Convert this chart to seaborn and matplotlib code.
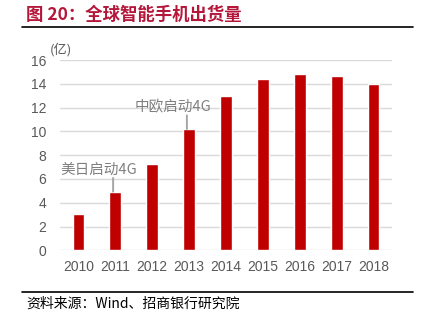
import matplotlib
matplotlib.use("Agg")
import matplotlib.pyplot as plt
import seaborn as sns
import pandas as pd

years = ["2010", "2011", "2012", "2013", "2014", "2015", "2016", "2017", "2018"]
shipments = [3.05, 4.93, 7.25, 10.2, 13.0, 14.37, 14.79, 14.68, 14.0]
y_ticks = [0, 2, 4, 6, 8, 10, 12, 14, 16]
notes = [("2011", "美日启动4G"), ("2013", "中欧启动4G")]

title = "图 20：全球智能手机出货量"
source = "资料来源：Wind、招商银行研究院"
unit = "(亿)"

sns.set_theme(style="white")
plt.rcParams["font.family"] = ["Liberation Sans", "Noto Sans CJK SC", "DejaVu Sans"]

df = pd.DataFrame({"year": years, "value": shipments})

fig = plt.figure(figsize=(4.27, 3.26), dpi=100)
ax = fig.add_axes([60 / 427, 1 - 250.3 / 326, 332 / 427, 190.3 / 326])

sns.barplot(data=df, x="year", y="value", color="#c00000", saturation=1,
            width=0.32, ax=ax, zorder=3)

ax.set_ylim(0, 16)
ax.set_xlim(-0.5, len(years) - 0.5)
ax.set_yticks(y_ticks)
ax.set_yticklabels([str(t) for t in y_ticks])
ax.set_xlabel("")
ax.set_ylabel("")
ax.grid(axis="y", color="#d9d9d9", linewidth=1.0, zorder=0)
ax.grid(axis="x", visible=False)
for s in ax.spines.values():
    s.set_visible(False)
ax.tick_params(axis="both", length=0, colors="#595959", labelsize=10)
ax.tick_params(axis="y", pad=10)
ax.tick_params(axis="x", pad=7)

# unit label above the value axis
ax.text(-0.48, 16.25, unit, fontsize=9.5, color="#595959",
        ha="center", va="bottom", family=["Noto Sans CJK SC", "DejaVu Sans"])

# milestone callouts
for yr, label in notes:
    i = years.index(yr)
    v = shipments[i]
    ax.annotate("", xy=(i - 0.06, v), xytext=(i - 0.06, v + 1.15),
                arrowprops=dict(arrowstyle="-", color="#a6a6a6", lw=1.4,
                                shrinkA=0, shrinkB=0), zorder=4)
    ax.text(i - 0.45, v + 1.8, label, fontsize=10.5, color="#7f7f7f",
            ha="center", va="center",
            family=["Noto Sans CJK SC", "DejaVu Sans"], zorder=4)

# header and footer
fig.text(26 / 427, 1 - 15 / 326, title, fontsize=12.5, fontweight="bold",
         color="#b5173a", ha="left", va="center",
         family=["Noto Sans CJK SC", "DejaVu Sans"])
fig.add_artist(plt.Line2D([22 / 427, 413 / 427], [1 - 27 / 326, 1 - 27 / 326],
                          color="black", lw=1.2))
fig.add_artist(plt.Line2D([22 / 427, 413 / 427], [1 - 292.3 / 326, 1 - 292.3 / 326],
                          color="black", lw=1.2))
fig.text(26 / 427, 1 - 304 / 326, source, fontsize=10, color="black",
         ha="left", va="center", family=["Noto Sans CJK SC", "DejaVu Sans"])

fig.savefig("out.png", dpi=100)
